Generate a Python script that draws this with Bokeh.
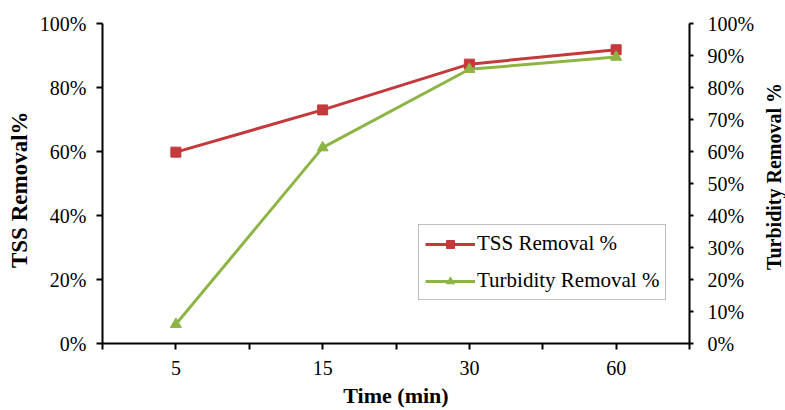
import math
from bokeh.plotting import figure
from bokeh.layouts import row
from bokeh.models import (Range1d, LinearAxis, FixedTicker, NumeralTickFormatter,
                          Legend, LegendItem, Label)
from bokeh.embed import file_html
from bokeh.resources import INLINE

categories = ["5", "15", "30", "60"]
tss_removal = [0.598, 0.730, 0.873, 0.918]
turbidity_removal = [0.06, 0.612, 0.857, 0.895]
left_ticks = [0.0, 0.2, 0.4, 0.6, 0.8, 1.0]
right_ticks = [0.0, 0.1, 0.2, 0.3, 0.4, 0.5, 0.6, 0.7, 0.8, 0.9, 1.0]
x_title = "Time (min)"
left_title = "TSS Removal%"
right_title = "Turbidity Removal %"

RED = "#C4393B"
GREEN = "#8DB545"
FONT = "Liberation Serif"

H = 410           # total height
LEFT_W = 36       # strip holding the left title
RIGHT_W = 25      # strip holding the right title
MAIN_W = 785 - LEFT_W - RIGHT_W

x = [i + 1 for i in range(len(categories))]
n = len(categories)

p = figure(width=MAIN_W, height=H, output_backend="svg", toolbar_location=None,
           x_range=Range1d(0.5, n + 0.5), y_range=Range1d(0, 1),
           min_border_left=65, min_border_top=23, min_border_right=71,
           min_border_bottom=5, y_axis_location=None)
p.outline_line_color = None
p.grid.visible = False

# x axis
xa = p.xaxis[0]
xa.ticker = FixedTicker(ticks=x, minor_ticks=[i + 0.5 for i in range(n + 1)])
xa.major_label_overrides = {xi: c for xi, c in zip(x, categories)}
xa.axis_label = x_title

la = LinearAxis(ticker=FixedTicker(ticks=left_ticks),
                formatter=NumeralTickFormatter(format="0%"))
p.add_layout(la, "left")
ra = LinearAxis(ticker=FixedTicker(ticks=right_ticks),
                formatter=NumeralTickFormatter(format="0%"))
p.add_layout(ra, "right")

for ax in (xa, la, ra):
    ax.axis_line_width = 2
    ax.axis_line_color = "black"
    ax.major_tick_line_width = 2
    ax.major_tick_in = 0
    ax.major_tick_out = 6
    ax.minor_tick_line_width = 2
    ax.minor_tick_in = 0
    ax.minor_tick_out = 0
    ax.major_label_text_font = FONT
    ax.major_label_text_font_size = "20px"
    ax.major_label_text_color = "black"
    ax.axis_label_text_font = FONT
    ax.axis_label_text_font_size = "22px"
    ax.axis_label_text_font_style = "bold"
    ax.axis_label_text_color = "black"

xa.minor_tick_out = 6
xa.major_label_standoff = 11
xa.axis_label_standoff = 5
la.major_label_standoff = 10
ra.major_tick_out = 4
ra.major_label_standoff = 14

l1 = p.line(x, tss_removal, line_color=RED, line_width=3)
s1 = p.scatter(x, tss_removal, marker="square", size=10, fill_color=RED, line_color=RED)
l2 = p.line(x, turbidity_removal, line_color=GREEN, line_width=3)
s2 = p.scatter(x, turbidity_removal, marker="triangle", size=11, fill_color=GREEN, line_color=GREEN)

legend = Legend(items=[LegendItem(label="TSS Removal %", renderers=[l1, s1]),
                       LegendItem(label="Turbidity Removal %", renderers=[l2, s2])],
                location=(316, 43))
legend.border_line_color = "#7f7f7f"
legend.border_line_width = 1
legend.background_fill_color = "white"
legend.background_fill_alpha = 1
legend.label_text_font = FONT
legend.label_text_font_size = "21px"
legend.label_text_color = "black"
legend.glyph_width = 50
legend.glyph_height = 20
legend.label_height = 20
legend.label_standoff = 2
legend.spacing = 12
legend.padding = 6
legend.margin = 0
p.add_layout(legend, "center")


def title_strip(width, text, cx, cy, size):
    """Narrow plot holding one vertical (bottom-to-top) axis title."""
    f = figure(width=width, height=H, output_backend="svg", toolbar_location=None,
               x_range=Range1d(0, width), y_range=Range1d(0, H),
               x_axis_location=None, y_axis_location=None, min_border=0)
    f.outline_line_color = None
    f.grid.visible = False
    f.add_layout(Label(x=cx, y=H - cy, text=text, angle=math.pi / 2,
                       text_align="center", text_baseline="middle",
                       text_font=FONT, text_font_size=size,
                       text_font_style="bold", text_color="black"))
    return f


p_left = title_strip(LEFT_W, left_title, 19, 213, "23px")
p_right = title_strip(RIGHT_W, right_title, 13, 196, "20px")

layout = row(p_left, p, p_right, spacing=0)

open("out.html", "w").write(file_html(layout, INLINE))
